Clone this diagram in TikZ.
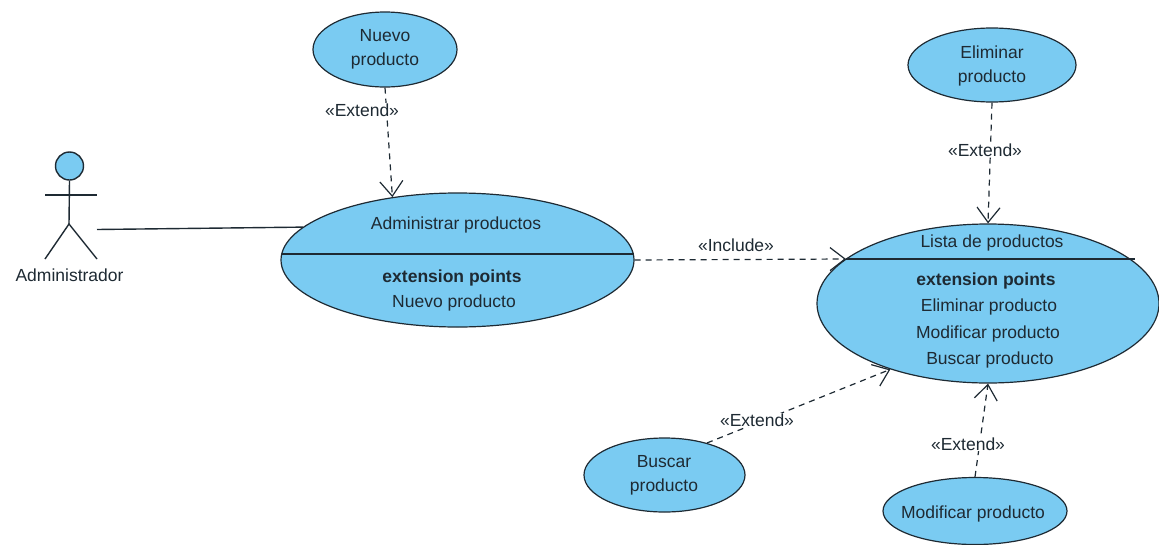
\documentclass[tikz,border=0pt]{standalone}
\usepackage{fontspec}
\setmainfont{Liberation Sans}
\usetikzlibrary{shapes.geometric,arrows.meta}
\definecolor{uc}{HTML}{7ACBF2}
\definecolor{ink}{HTML}{1E2A33}
\tikzset{
  x=1pt,y=-1pt,
  lab/.style={font=\fontsize{17.5}{21}\selectfont,text=ink,inner sep=0pt,align=center},
  tag/.style={lab,fill=white,inner xsep=2pt,inner ysep=1pt},
  usecase/.style={ellipse,draw=ink,fill=uc,line width=1.2pt,inner sep=0pt},
  dep/.style={draw=ink,line width=1.2pt,dash pattern=on 6pt off 5pt,-{Straight Barb[length=15pt,width=23pt,line width=1.2pt]}},
  solidline/.style={draw=ink,line width=1.4pt},
}
\begin{document}
\begin{tikzpicture}
\useasboundingbox (0,0) rectangle (1159,544);
\fill[white] (0,0) rectangle (1159,544);
% use cases
\node[usecase,minimum width=144pt,minimum height=75pt] (nuevo) at (385,49.5) {};
\node[lab] (nuevotxt) at (385,49) {Nuevo\\[3pt]producto};
\node[usecase,minimum width=168pt,minimum height=74pt] (eliminar) at (992,65) {};
\node[lab] (eliminartxt) at (992,66) {Eliminar\\[3pt]producto};
\node[usecase,minimum width=353pt,minimum height=134pt] (admin) at (457.5,260) {};
\node[usecase,minimum width=342pt,minimum height=159pt] (lista) at (988,303.5) {};
\node[usecase,minimum width=161pt,minimum height=74pt] (buscar) at (664.5,475) {};
\node[lab] (buscartxt) at (664,475) {Buscar\\[3pt]producto};
\node[usecase,minimum width=184pt,minimum height=67pt] (modificar) at (975,511) {};
\node[lab] (modificartxt) at (973,514) {Modificar producto};
% compartment lines
\coordinate (al) at (281.5,254);
\coordinate (ar) at (633.5,254);
\coordinate (ll) at (846,259);
\coordinate (lr) at (1135,259);
\draw[solidline,line width=1.2pt] (al) -- (ar);
\draw[solidline,line width=1.2pt] (ll) -- (lr);
% compartment text
\node[lab] (admintitle) at (456,225) {Administrar productos};
\node[lab,font=\fontsize{17.5}{21}\selectfont\bfseries] (adminext) at (452,278) {extension points};
\node[lab] (adminnp) at (454,303) {Nuevo producto};
\node[lab] (listatitle) at (992,243) {Lista de productos};
\node[lab,font=\fontsize{17.5}{21}\selectfont\bfseries] (listaext) at (986,281) {extension points};
\node[lab] (listae) at (989,307) {Eliminar producto};
\node[lab] (listam) at (988,334) {Modificar producto};
\node[lab] (listab) at (990,360) {Buscar producto};
% actor
\coordinate (hip) at (69,224);
\coordinate (neck) at (69,180);
\coordinate (handl) at (45,195);
\coordinate (handr) at (97,195);
\coordinate (footl) at (45,259);
\coordinate (footr) at (97,259);
\coordinate (armc) at (69,195);
\coordinate (actorend) at (97,229.5);
\node[circle,draw=ink,fill=uc,line width=1.4pt,minimum size=28pt,inner sep=0pt] (head) at (69.5,166) {};
\draw[solidline] (head.south) -- (hip);
\draw[solidline] (handl) -- (handr);
\draw[solidline] (footl) -- (hip) -- (footr);
\node[lab] (actorlabel) at (69.5,275) {Administrador};
\draw[solidline] (actorend) -- (admin.168.5);
% dependencies
\draw[dep] (nuevo.south) -- (admin.136);
\node[tag] (t1) at (362,110) {<<Extend>>};
\draw[dep] (eliminar.south) -- (lista.90);
\node[tag] (t2) at (985,150) {<<Extend>>};
\draw[dep] (admin.east) -- (ll);
\node[lab] (t3) at (736,245) {<<Include>>};
\draw[dep] (buscar.37) -- (lista.214);
\node[tag] (t4) at (757,420) {<<Extend>>};
\draw[dep] (modificar.north) -- (lista.south);
\node[tag] (t5) at (968,444) {<<Extend>>};
\end{tikzpicture}
\end{document}
